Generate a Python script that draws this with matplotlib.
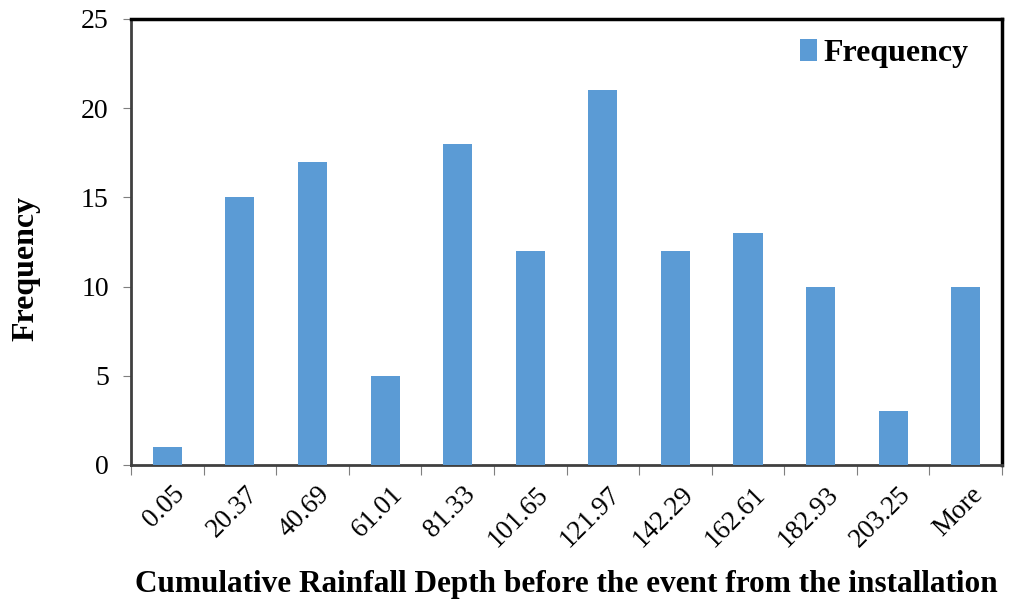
import matplotlib
matplotlib.use('Agg')
import matplotlib.pyplot as plt
import matplotlib.transforms as mtransforms
import numpy as np

plt.rcParams['font.family'] = ['Liberation Serif', 'DejaVu Serif']

bins = ['0.05', '20.37', '40.69', '61.01', '81.33', '101.65', '121.97',
        '142.29', '162.61', '182.93', '203.25', 'More']
freq = [1, 15, 17, 5, 18, 12, 21, 12, 13, 10, 3, 10]

fig = plt.figure(figsize=(10.29, 6.03), dpi=100)
ax = fig.add_axes([0.1273, 0.2289, 0.8465, 0.7396])

x = np.arange(len(bins))
ax.bar(x, freq, width=0.4, color='#5B9BD5', label='Frequency', zorder=3)

ax.set_xlim(-0.5, len(bins) - 0.5)
ax.set_ylim(0, 25)
ax.set_yticks(range(0, 26, 5))
ax.tick_params(axis='y', labelsize=20, length=6, color='#7f7f7f', pad=10)

# category boundary ticks, labels in between
ax.set_xticks(np.arange(-0.5, len(bins)), minor=False)
ax.set_xticklabels([])
ax.set_xticks(x, minor=True)
ax.set_xticklabels(bins, minor=True, rotation=45, ha='right', rotation_mode='anchor', fontsize=19.5)
ax.tick_params(axis='x', which='major', length=7, color='#7f7f7f')
ax.tick_params(axis='x', which='minor', length=0, pad=12)
offset = mtransforms.ScaledTranslation(5 / 100, 0, fig.dpi_scale_trans)
for lbl in ax.get_xticklabels(minor=True):
    lbl.set_transform(lbl.get_transform() + offset)

for s in ['left', 'bottom']:
    ax.spines[s].set_color('#404040')
    ax.spines[s].set_linewidth(2)
for s in ['top', 'right']:
    ax.spines[s].set_color('black')
    ax.spines[s].set_linewidth(2.5)

ax.set_ylabel('Frequency', fontsize=23, fontweight='bold')
ax.yaxis.set_label_coords(-0.104, 0.44)
ax.set_xlabel('Cumulative Rainfall Depth before the event from the installation',
              fontsize=22.5, fontweight='bold', labelpad=13)

leg = ax.legend(loc='upper right', frameon=False, prop={'size': 23, 'weight': 'bold'},
                handlelength=0.55, handleheight=0.7, handletextpad=0.2,
                bbox_to_anchor=(0.995, 1.02))

fig.savefig('out.png', dpi=100)
